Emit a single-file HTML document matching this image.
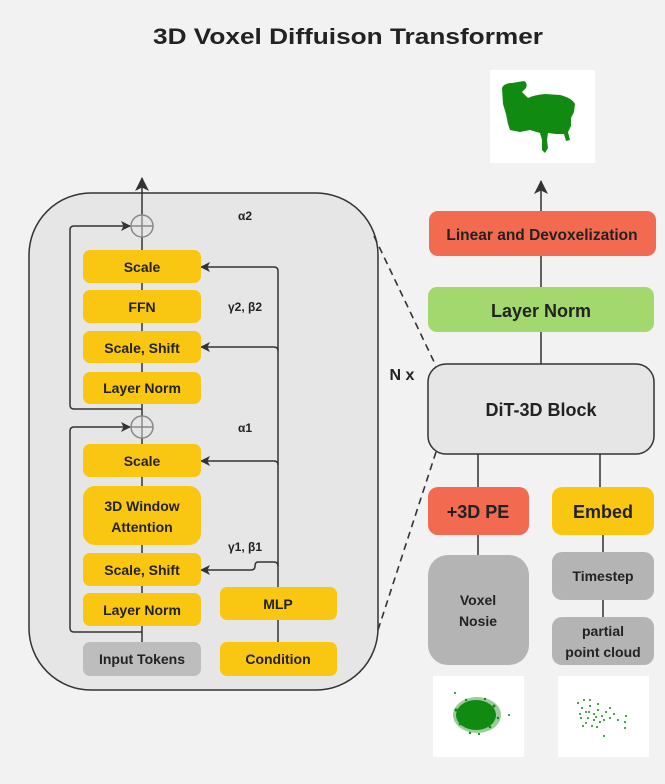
<!DOCTYPE html>
<html><head><meta charset="utf-8"><style>
html,body{margin:0;padding:0;background:#f2f2f2;}
svg{display:block;}
text{font-family:"Liberation Sans",sans-serif;font-weight:bold;fill:#222;text-anchor:middle;}
</style></head><body>
<svg width="665" height="784" viewBox="0 0 665 784" xmlns="http://www.w3.org/2000/svg">
<defs>
<marker id="ah" markerWidth="10" markerHeight="10" refX="9" refY="5" orient="auto" markerUnits="userSpaceOnUse">
<path d="M0,0 L10,5 L0,10 L2.5,5 Z" fill="#333"/></marker>
<marker id="ah2" markerWidth="14" markerHeight="14" refX="13" refY="7" orient="auto" markerUnits="userSpaceOnUse">
<path d="M0,0 L14,7 L0,14 L3.5,7 Z" fill="#333"/></marker>
</defs>
<rect width="665" height="784" fill="#f2f2f2"/>
<text x="348" y="44" font-size="22" textLength="390" lengthAdjust="spacingAndGlyphs">3D Voxel Diffuison Transformer</text>

<rect x="29" y="193" width="349" height="497" rx="62" fill="#e6e6e6" stroke="#333" stroke-width="1.5"/>

<line x1="142" y1="642" x2="142" y2="178" stroke="#333" stroke-width="1.5" marker-end="url(#ah2)"/>
<path d="M142,409 L74,409 Q70,409 70,405 L70,230 Q70,226 74,226 L130,226" fill="none" stroke="#333" stroke-width="1.5" marker-end="url(#ah)"/>
<path d="M142,632 L74,632 Q70,632 70,628 L70,431 Q70,427 74,427 L130,427" fill="none" stroke="#333" stroke-width="1.5" marker-end="url(#ah)"/>
<g stroke="#888" stroke-width="1.5" fill="#e6e6e6">
<circle cx="142" cy="226" r="11"/><line x1="131" y1="226" x2="153" y2="226"/><line x1="142" y1="215" x2="142" y2="237"/>
<circle cx="142" cy="427" r="11"/><line x1="131" y1="427" x2="153" y2="427"/><line x1="142" y1="416" x2="142" y2="438"/>
</g>
<line x1="278" y1="642" x2="278" y2="271" stroke="#333" stroke-width="1.5"/>
<g fill="none" stroke="#333" stroke-width="1.5">
<path d="M278,271 Q278,267 274,267 L201,267" marker-end="url(#ah)"/>
<path d="M278,351 Q278,347 274,347 L201,347" marker-end="url(#ah)"/>
<path d="M278,465 Q278,461 274,461 L201,461" marker-end="url(#ah)"/>
<path d="M278,566 Q278,562 274,562 L258,562 Q255,562 255,566 Q255,570 251,570 L201,570" marker-end="url(#ah)"/>
</g>

<g fill="#f9c712">
<rect x="83" y="250" width="118" height="33" rx="7"/>
<rect x="83" y="290" width="118" height="33" rx="7"/>
<rect x="83" y="331" width="118" height="32" rx="7"/>
<rect x="83" y="372" width="118" height="32" rx="7"/>
<rect x="83" y="444" width="118" height="33" rx="7"/>
<rect x="83" y="486" width="118" height="59" rx="12"/>
<rect x="83" y="553" width="118" height="33" rx="7"/>
<rect x="83" y="593" width="118" height="33" rx="7"/>
<rect x="220" y="587" width="117" height="33" rx="7"/>
<rect x="220" y="642" width="117" height="34" rx="7"/>
</g>
<rect x="83" y="642" width="118" height="34" rx="7" fill="#bdbdbd"/>
<g font-size="14">
<text x="142" y="272">Scale</text>
<text x="142" y="312">FFN</text>
<text x="142" y="353">Scale, Shift</text>
<text x="142" y="393">Layer Norm</text>
<text x="142" y="466">Scale</text>
<text x="142" y="511">3D Window</text>
<text x="142" y="532">Attention</text>
<text x="142" y="575">Scale, Shift</text>
<text x="142" y="615">Layer Norm</text>
<text x="142" y="664">Input Tokens</text>
<text x="278" y="609">MLP</text>
<text x="278" y="664">Condition</text>
</g>
<g font-size="12">
<text x="245" y="220">α2</text>
<text x="245" y="311">γ2, β2</text>
<text x="245" y="432">α1</text>
<text x="245" y="551">γ1, β1</text>
</g>

<line x1="374" y1="236" x2="436" y2="366" stroke="#333" stroke-width="1.6" stroke-dasharray="7,5"/>
<line x1="436" y1="452" x2="378" y2="630" stroke="#333" stroke-width="1.6" stroke-dasharray="7,5"/>
<text x="402" y="380" font-size="16">N x</text>

<line x1="541" y1="364" x2="541" y2="181" stroke="#333" stroke-width="1.5" marker-end="url(#ah2)"/>
<line x1="478" y1="454" x2="478" y2="487" stroke="#333" stroke-width="1.5"/>
<line x1="600" y1="454" x2="600" y2="487" stroke="#333" stroke-width="1.5"/>
<line x1="478" y1="535" x2="478" y2="555" stroke="#333" stroke-width="1.5"/>
<line x1="603" y1="535" x2="603" y2="617" stroke="#333" stroke-width="1.5"/>
<rect x="429" y="211" width="227" height="45" rx="9" fill="#f26a50"/>
<text x="542" y="240" font-size="15.5">Linear and Devoxelization</text>
<rect x="428" y="287" width="226" height="45" rx="9" fill="#a3d86f"/>
<text x="541" y="317" font-size="18">Layer Norm</text>
<rect x="428" y="364" width="226" height="90" rx="18" fill="#e6e6e6" stroke="#333" stroke-width="1.5"/>
<text x="541" y="416" font-size="18">DiT-3D Block</text>
<rect x="428" y="487" width="101" height="48" rx="10" fill="#f26a50"/>
<text x="478" y="518" font-size="18">+3D PE</text>
<rect x="552" y="487" width="102" height="48" rx="10" fill="#f9c712"/>
<text x="603" y="518" font-size="18">Embed</text>
<rect x="428" y="555" width="101" height="110" rx="20" fill="#b5b4b4"/>
<text x="478" y="605" font-size="14">Voxel</text>
<text x="478" y="626" font-size="14">Nosie</text>
<rect x="552" y="552" width="102" height="48" rx="10" fill="#b5b4b4"/>
<text x="603" y="581" font-size="14">Timestep</text>
<rect x="552" y="617" width="102" height="48" rx="10" fill="#b5b4b4"/>
<text x="603" y="636" font-size="14">partial</text>
<text x="603" y="657" font-size="14">point cloud</text>

<rect x="490" y="70" width="105" height="93" fill="#fff"/>
<g fill="#118a11">
<path d="M502,88 Q504,83 512,83 L524,81 Q528,83 526,88 L522,92 L528,98 Q534,95 545,94 L560,95 Q572,98 575,104 L574,112 L571,118 L571,126 L568,132 L570,140 L566,141 L564,134 L556,134 L548,133 L547,140 L548,148 L545,153 L542,150 L542,140 L540,133 L530,130 L520,132 L510,130 L508,124 L506,114 L503,104 Z"/>
</g>
<rect x="433" y="676" width="91" height="81" fill="#fff"/>
<ellipse cx="477" cy="715" rx="24" ry="18" fill="#3a9a3a" opacity="0.5"/>
<ellipse cx="476" cy="715" rx="20" ry="15" fill="#118a11"/>
<g fill="#118a11">
<circle cx="456" cy="710" r="1.5"/><circle cx="494" cy="706" r="1.5"/><circle cx="470" cy="733" r="1.2"/><circle cx="490" cy="727" r="1.3"/><circle cx="460" cy="724" r="1.3"/><circle cx="485" cy="699" r="1.2"/><circle cx="509" cy="715" r="1"/><circle cx="455" cy="693" r="1"/><circle cx="498" cy="718" r="1.2"/><circle cx="466" cy="700" r="1.2"/><circle cx="479" cy="734" r="1.1"/>
</g>
<rect x="558" y="676" width="91" height="81" fill="#fff"/>
<g fill="#118a11">
<circle cx="578" cy="703" r="1"/><circle cx="582" cy="708" r="1"/><circle cx="586" cy="712" r="1"/><circle cx="590" cy="706" r="1"/><circle cx="594" cy="714" r="1"/><circle cx="598" cy="710" r="1"/><circle cx="602" cy="716" r="1"/><circle cx="606" cy="712" r="1"/><circle cx="600" cy="722" r="1"/><circle cx="594" cy="720" r="1"/><circle cx="588" cy="718" r="1"/><circle cx="580" cy="714" r="1"/><circle cx="584" cy="700" r="1"/><circle cx="592" cy="726" r="1"/><circle cx="610" cy="718" r="1"/><circle cx="614" cy="714" r="1"/><circle cx="626" cy="716" r="1"/><circle cx="625" cy="722" r="1"/><circle cx="625" cy="728" r="1"/><circle cx="604" cy="736" r="1"/><circle cx="598" cy="704" r="1"/><circle cx="610" cy="708" r="1"/><circle cx="586" cy="723" r="1"/>
<circle cx="581" cy="718" r="1"/><circle cx="589" cy="712" r="1"/><circle cx="596" cy="717" r="1"/><circle cx="604" cy="720" r="1"/><circle cx="590" cy="700" r="1"/><circle cx="583" cy="726" r="1"/><circle cx="597" cy="727" r="1"/><circle cx="618" cy="720" r="1"/>
</g>
</svg>
</body></html>
